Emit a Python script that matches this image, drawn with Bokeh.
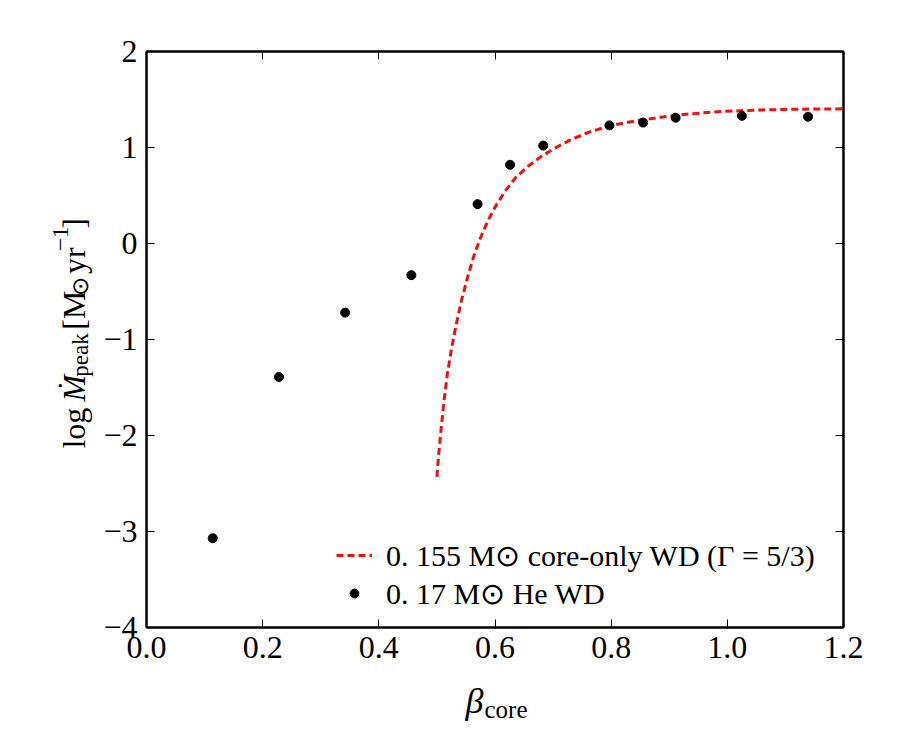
import numpy as np
from bokeh.plotting import figure
from bokeh.layouts import row, column
from bokeh.models import Range1d, LinearAxis, FixedTicker, Legend, LegendItem, ColumnDataSource
from bokeh.core.properties import value
from bokeh.embed import file_html
from bokeh.resources import INLINE

# ---------------- data ----------------
beta_he = [0.114, 0.228, 0.342, 0.456, 0.570, 0.626, 0.683, 0.797, 0.855, 0.911, 1.025, 1.139]
logmdot_he = [-3.07, -1.39, -0.72, -0.33, 0.41, 0.82, 1.02, 1.23, 1.26, 1.31, 1.33, 1.32]

beta_core = [0.500, 0.503, 0.507, 0.512, 0.518, 0.525, 0.533, 0.542, 0.552, 0.563,
             0.575, 0.588, 0.602, 0.618, 0.636, 0.656, 0.678, 0.702, 0.730, 0.762,
             0.800, 0.840, 0.885, 0.935, 0.990, 1.050, 1.120, 1.200]
logmdot_core = [-2.43, -2.20, -1.95, -1.65, -1.36, -1.10, -0.85, -0.60, -0.37, -0.14,
                0.06, 0.24, 0.40, 0.55, 0.69, 0.80, 0.90, 0.99, 1.08, 1.16,
                1.23, 1.275, 1.315, 1.350, 1.375, 1.390, 1.399, 1.403]

x_ticks = [0.0, 0.2, 0.4, 0.6, 0.8, 1.0, 1.2]
x_tick_labels = ["0.0", "0.2", "0.4", "0.6", "0.8", "1.0", "1.2"]
y_ticks = [-4, -3, -2, -1, 0, 1, 2]
y_tick_labels = ["\u22124", "\u22123", "\u22122", "\u22121", "0", "1", "2"]

legend_core = "0. 155 M\u2299 core-only WD (\u0393 = 5/3)"
legend_he = "0. 17 M\u2299 He WD"

# ---------------- layout constants ----------------
W, H = 900, 750
YLAB_W = 100         # width of the strip holding the y title
MAIN_H = 673         # height of the main figure (frame + x tick labels)
XLAB_H = H - MAIN_H  # strip holding the x title
FRAME_L, FRAME_R, FRAME_T, FRAME_B = 145, 843, 51, 627
FONT = "Liberation Serif"

# ---------------- main figure ----------------
p = figure(width=W - YLAB_W, height=MAIN_H, output_backend="svg", toolbar_location=None,
           x_range=Range1d(0, 1.2), y_range=Range1d(-4, 2),
           min_border_left=FRAME_L - YLAB_W, min_border_right=W - FRAME_R,
           min_border_top=FRAME_T, min_border_bottom=MAIN_H - FRAME_B)
p.grid.visible = False
p.outline_line_color = "black"
p.outline_line_width = 2
p.background_fill_color = "white"
p.border_fill_color = "white"


def style_axis(ax, labels):
    ax.ticker = FixedTicker(ticks=list(labels.keys()))
    ax.major_label_overrides = labels
    ax.major_tick_in = 8
    ax.major_tick_out = 0
    ax.minor_tick_line_color = None
    ax.major_tick_line_color = "black"
    ax.major_tick_line_width = 1
    ax.axis_line_color = "black"
    ax.axis_line_width = 2
    ax.major_label_text_font = FONT
    ax.major_label_text_font_size = "32px"
    ax.major_label_text_color = "black"


style_axis(p.xaxis[0], dict(zip(x_ticks, x_tick_labels)))
style_axis(p.yaxis[0], dict(zip(y_ticks, y_tick_labels)))
p.xaxis[0].major_label_standoff = 9
p.yaxis[0].major_label_standoff = 9

top = LinearAxis()
style_axis(top, {t: "" for t in x_ticks})
top.major_label_standoff = 0
right = LinearAxis()
style_axis(right, {t: "" for t in y_ticks})
right.major_label_standoff = 0
p.add_layout(top, "above")
p.add_layout(right, "right")

r_core = p.line(beta_core, logmdot_core, line_color="#ee1111", line_width=3, line_dash="7 4")
r_he = p.scatter(beta_he, logmdot_he, size=9, fill_color="black", line_color="black")

legend = Legend(items=[LegendItem(label=legend_core, renderers=[r_core]),
                       LegendItem(label=legend_he, renderers=[r_he])],
                location=(190, 15))
legend.border_line_alpha = 0
legend.background_fill_alpha = 0
legend.padding = 0
legend.spacing = 0
legend.margin = 0
legend.label_height = 38
legend.glyph_height = 22
legend.glyph_width = 36
legend.label_standoff = 14
legend.label_text_font = FONT
legend.label_text_font_size = "30px"
legend.label_text_color = "black"
p.add_layout(legend, "center")


def strip(width, height):
    f = figure(width=width, height=height, output_backend="svg", toolbar_location=None,
               x_range=Range1d(0, width), y_range=Range1d(0, height),
               x_axis_type=None, y_axis_type=None,
               min_border=0, min_border_left=0, min_border_right=0,
               min_border_top=0, min_border_bottom=0)
    f.grid.visible = False
    f.outline_line_color = None
    f.background_fill_color = "white"
    f.border_fill_color = "white"
    return f


# ---------------- y title strip: log Mdot_peak [M_sun yr^-1] ----------------
ylab = strip(YLAB_W, MAIN_H)
base_x = 73
pieces = [  # text, size, style, shift (px, + = below baseline), advance (px)
    ("log", 32, "normal", 0, 55),
    ("\u1e40", 32, "italic", 0, 29),
    ("peak", 23, "normal", 7, 55),
    ("[M", 32, "normal", 0, 39),
    ("\u2299", 23, "normal", 7, 26),
    ("yr", 32, "normal", 0, 27),
    ("\u22121", 23, "normal", -13, 26),
    ("]", 32, "normal", 0, 11),
]
total = sum(pc[4] for pc in pieces)
ypos = 330 + total / 2      # canvas px, bottom end of the title
ys, xs, txt, sz, st = [], [], [], [], []
for t, size, style, shift, adv in pieces:
    xs.append(base_x + shift)
    ys.append(MAIN_H - ypos)
    txt.append(t)
    sz.append(f"{size}px")
    st.append(style)
    ypos -= adv
ylab.text(x="x", y="y", text="t", text_font_size="s", text_font_style="st",
          source=ColumnDataSource(dict(x=xs, y=ys, t=txt, s=sz, st=st)),
          text_font=value(FONT), angle=np.pi / 2, text_align="left",
          text_baseline="alphabetic", text_color="black")

# ---------------- x title strip: beta_core ----------------
xlab = strip(W, XLAB_H)
anchor_x = 483
xlab.text(x=[anchor_x], y=[H - 700], text=["\u03b2"], text_font=value(FONT),
          text_font_style="italic", text_font_size=value("36px"), text_align="right",
          text_baseline="alphabetic", text_color="black")
xlab.text(x=[anchor_x + 1], y=[H - 709], text=["core"], text_font=value(FONT),
          text_font_size=value("25px"), text_align="left",
          text_baseline="alphabetic", text_color="black")

layout = column(row(ylab, p, spacing=0), xlab, spacing=0)
open("out.html", "w").write(file_html(layout, INLINE))
